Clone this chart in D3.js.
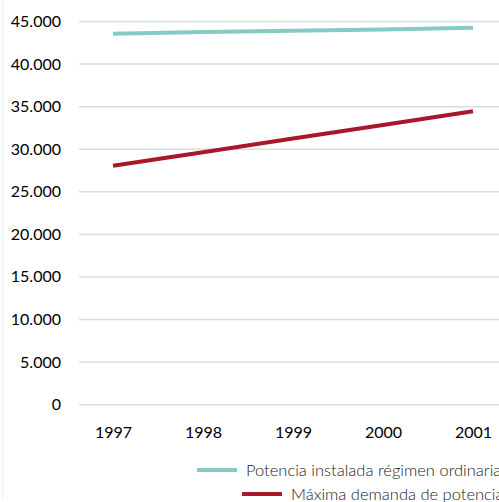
<!DOCTYPE html>
<html><head><meta charset="utf-8">
<script src="https://cdn.jsdelivr.net/npm/d3@7"></script>
<style>body{margin:0;background:#fff;} svg{display:block;}</style>
</head><body>
<svg id="c" width="499" height="502"></svg>
<script>
const years = ["1997","1998","1999","2000","2001"];
const potenciaInstalada = [43500, 43700, 43850, 44000, 44200];
const maximaDemanda = [28000, 29600, 31200, 32800, 34400];
const yTicks = [0,5000,10000,15000,20000,25000,30000,35000,40000,45000];
const seriesNames = ["Potencia instalada régimen ordinaria","Máxima demanda de potencia"];
const seriesColors = ["#86cac6","#a8182a"];

const svg = d3.select("#c");
const font = "Lato, 'Open Sans', sans-serif";
const x = d3.scalePoint().domain(years).range([113,473]);
const y = d3.scaleLinear().domain([0,45000]).range([404.3,21]);

// faint left border
svg.append("line").attr("x1",2.5).attr("x2",2.5).attr("y1",0).attr("y2",500)
  .attr("stroke","#f0f2f1").attr("stroke-width",1.5);

const yAxis = d3.axisLeft(y).tickValues(yTicks).tickSize(-(499-79))
  .tickFormat(d => d===0 ? "0" : d3.format(",")(d).replace(/,/g,"."));
const gy = svg.append("g").attr("transform","translate(79,0)").call(yAxis);
gy.select(".domain").remove();
gy.selectAll(".tick line").attr("stroke","#d3e0dc").attr("stroke-width",1.5);
gy.selectAll(".tick text").attr("x",-18).attr("font-family",font).attr("font-size",16)
  .attr("fill","#000").attr("dy","0.34em");

const xAxis = d3.axisBottom(x).tickSize(0);
const gx = svg.append("g").attr("transform","translate(0,404)").call(xAxis);
gx.select(".domain").remove();
gx.selectAll(".tick text").attr("font-family",font).attr("font-size",16)
  .attr("fill","#000").attr("dy",0).attr("y",34);

const line = d3.line().x((d,i)=>x(years[i])).y(d=>y(d));
[potenciaInstalada, maximaDemanda].forEach((s,k)=>{
  svg.append("path").datum(s).attr("d",line).attr("fill","none")
    .attr("stroke",seriesColors[k]).attr("stroke-width",4);
});

const legendPos = [[197,470],[242,494]];
seriesNames.forEach((n,k)=>{
  const [lx,ly] = legendPos[k];
  svg.append("line").attr("x1",lx).attr("x2",lx+40).attr("y1",ly).attr("y2",ly)
    .attr("stroke",seriesColors[k]).attr("stroke-width",4);
  svg.append("text").attr("x",lx+49).attr("y",ly).attr("dy","0.35em")
    .attr("font-family",font).attr("font-size",16.5).attr("font-weight",300)
    .attr("fill","#222").text(n);
});
</script>
</body></html>
